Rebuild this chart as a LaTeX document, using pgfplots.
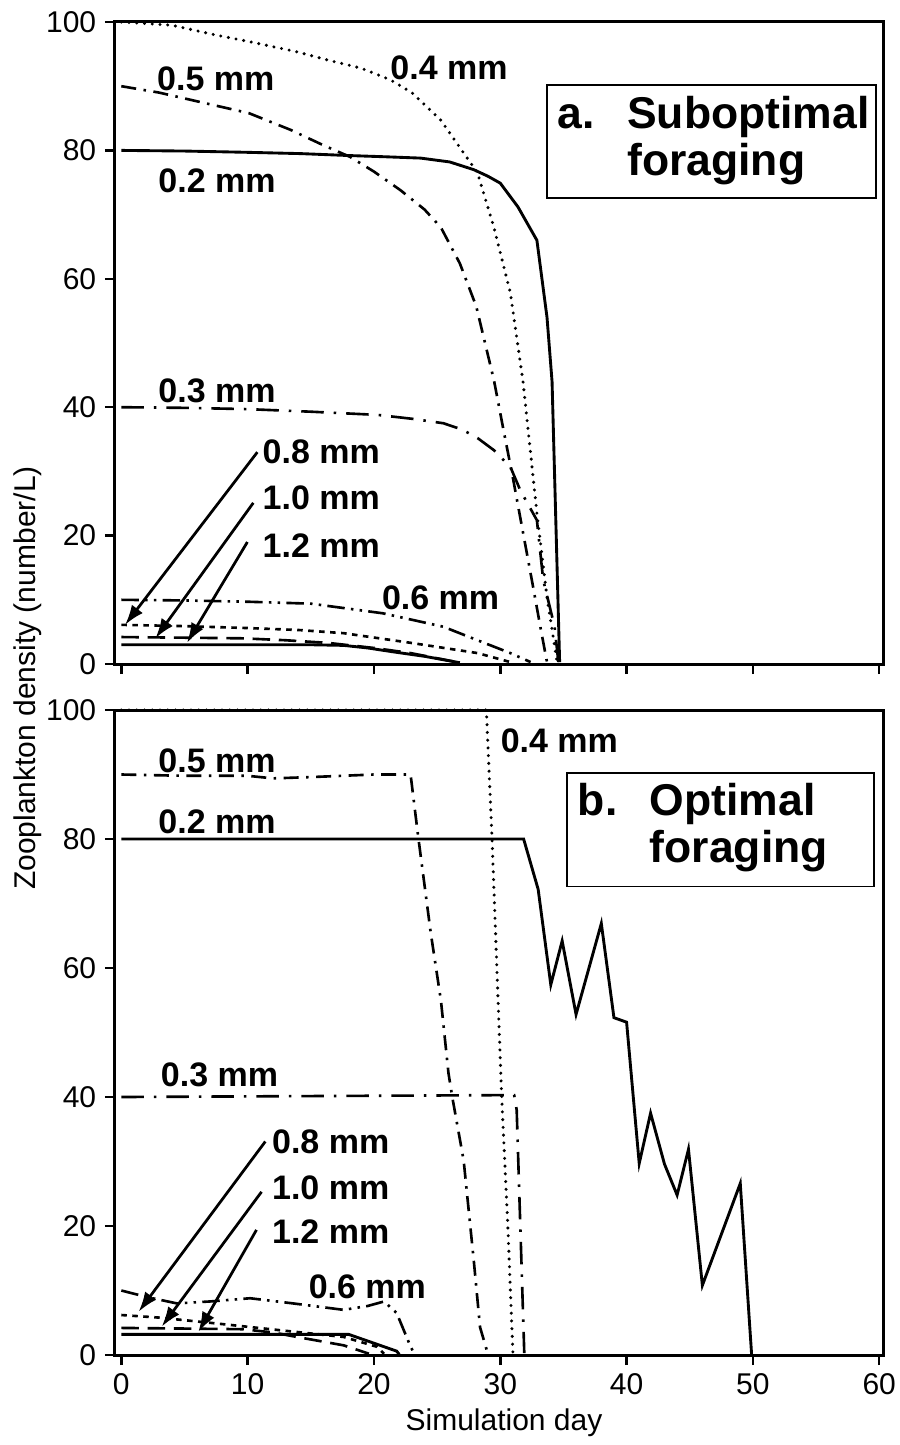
\documentclass[border=0pt]{standalone}
\usepackage{pgfplots}
\pgfplotsset{compat=1.18}
\usetikzlibrary{arrows.meta}
\usepackage{fontspec}
\setmainfont{Liberation Sans}
\tikzset{
 lab/.style={font=\bfseries\fontsize{13.6}{15}\selectfont, anchor=west, inner sep=0pt},
 arr/.style={black, line width=1.1pt, -{Latex[length=8pt,width=5.5pt]}},
}
\pgfplotsset{
 dotline/.style={black, line width=1.35pt, line cap=round, dash pattern=on 0pt off 3.1pt},
 dashdot/.style={black, line width=1.05pt, dash pattern=on 6pt off 3pt on 1pt off 3pt},
 longdashdot/.style={black, line width=1.05pt, dash pattern=on 9pt off 4pt on 1pt off 4pt},
 dashdotdot/.style={black, line width=1.05pt, dash pattern=on 7pt off 2.5pt on 1pt off 2.5pt on 1pt off 2.5pt},
 shortdash/.style={black, line width=1.05pt, dash pattern=on 2.2pt off 2.2pt},
 longdash/.style={black, line width=1.05pt, dash pattern=on 7pt off 3.5pt},
 solidline/.style={black, line width=1.15pt},
 panel/.style={
   anchor=north west, scale only axis, width=307.2pt,
   xmin=-0.5, xmax=60.3, ymin=0, ymax=100,
   xtick={0,10,...,60}, ytick={0,20,...,100},
   tick align=outside, tick pos=left, major tick length=4pt,
   axis line style={line width=1.2pt}, every tick/.style={black, line width=1pt},
   tick label style={font=\fontsize{12}{14}\selectfont},
   /pgf/number format/assume math mode=true,
   clip=false, no markers,
 },
}
\begin{document}
\begin{tikzpicture}
\path[use as bounding box] (0pt,0pt) rectangle (359.6pt,-578pt);

% ---------------- Panel a ----------------
\begin{axis}[panel, at={(46pt,-8.8pt)}, height=256.8pt, xticklabels={}]
% 0.4 mm
\addplot[dotline] coordinates {(0,100) (4,99.5) (7.4,98) (10,97) (13.8,95.4) (16.5,94) (19,92.8) (21.3,91) (23,89) (25.3,84.7) (27.1,79.6) (28.2,76.5) (29.5,68) (30.8,57.8) (31.8,44) (32.9,23.5) (33.7,10.4) (34.5,0.3)};
% 0.5 mm
\addplot[dashdot] coordinates {(0,90) (3,89) (6.1,87.6) (10.1,85.8) (13.4,83.2) (16,80.8) (18.1,79) (20,76.7) (22.1,73.8) (24,70.8) (25.3,68) (26.8,62.4) (28.1,55.7) (29.5,44.2) (30.3,36) (31,29) (31.8,20.5) (32.6,12) (33.2,5.5) (33.7,0.3)};
% 0.2 mm
\addplot[solidline] coordinates {(0,80) (5,79.9) (10,79.7) (14.2,79.5) (18,79.2) (21,79) (23.7,78.8) (26,78.2) (27.9,77) (29,76) (30,74.9) (31.4,71.2) (32.9,66) (33.3,60) (33.7,54) (34.1,44) (34.7,0.3)};
% 0.3 mm
\addplot[longdashdot] coordinates {(0,40) (5,39.9) (10,39.7) (15,39.3) (20.3,38.8) (23,38.2) (25.5,37.5) (27,36.5) (28.2,35.2) (29.5,33.3) (30.8,30.7) (31.6,27) (32.9,22.4) (33.4,13.1) (34.3,5.8) (34.6,0.3)};
% 0.6 mm
\addplot[dashdotdot] coordinates {(0,10) (5,9.9) (10,9.7) (15,9.4) (20.7,7.9) (25.5,5.8) (28.2,3.7) (30.8,1.7) (32.4,0.3)};
% 0.8 mm
\addplot[shortdash] coordinates {(0,6.1) (5,5.9) (10,5.6) (14,5.3) (17.6,4.8) (22.9,3.3) (28.2,1.7) (30.8,0.3)};
% 1.0 mm
\addplot[longdash] coordinates {(0,4.2) (5,4.1) (9.6,4) (13,3.7) (16.3,3.3) (20,2.5) (22.9,1.7) (26.8,0.2)};
% 1.2 mm
\addplot[solidline] coordinates {(0,3) (10,3) (15,3) (17.6,2.9) (19.5,2.5) (21.5,1.9) (24,1.2) (26.8,0.2)};

\node[lab] at (axis cs:21.27,92.8) {0.4 mm};
\node[lab] at (axis cs:2.8,91.2) {0.5 mm};
\node[lab] at (axis cs:2.9,75.3) {0.2 mm};
\node[lab] at (axis cs:2.9,42.5) {0.3 mm};
\node[lab] at (axis cs:11.15,33.0) {0.8 mm};
\node[lab] at (axis cs:11.15,25.9) {1.0 mm};
\node[lab] at (axis cs:11.15,18.5) {1.2 mm};
\node[lab] at (axis cs:20.6,10.3) {0.6 mm};
\draw[arr] (axis cs:10.77,33.0) -- (axis cs:0.3,6.1);
\draw[arr] (axis cs:10.45,25.1) -- (axis cs:2.7,4.0);
\draw[arr] (axis cs:9.98,19.0) -- (axis cs:5.2,3.3);

\draw[black, line width=0.6pt, fill=white] (axis cs:33.7,90.2) rectangle (axis cs:59.75,72.6);
\node[anchor=base west, inner sep=0pt, font=\bfseries\fontsize{17.8}{18.8}\selectfont] at (axis cs:34.5,83.4)
  {\begin{tabular}[t]{@{}l@{\hspace{13pt}}l@{}}a.&Suboptimal\\&foraging\end{tabular}};
\end{axis}

% ---------------- Panel b ----------------
\begin{axis}[panel, at={(46pt,-284pt)}, height=258pt]
% 0.4 mm
\addplot[dotline] coordinates {(0,100) (28.9,100) (29.35,80) (30.1,40.6) (30.6,20) (31,0.3)};
% 0.5 mm
\addplot[dashdot] coordinates {(0,90) (5,89.8) (10,89.8) (12,89.4) (15,89.6) (20,90) (22.9,90) (23.5,80.4) (24.5,65.4) (25.3,55) (25.9,43.7) (26.2,40) (27.1,30.2) (27.9,14.7) (28.4,4.3) (29,0.3)};
% 0.2 mm
\addplot[solidline] coordinates {(0,80) (31.85,80) (33,72.2) (34,57.4) (34.9,64.2) (36,52.8) (38,66.9) (39,52.3) (40,51.6) (41,29.7) (41.9,37.5) (43,29.6) (44,24.8) (44.9,31.9) (46,10.8) (49,26.6) (49.9,0)};
% 0.3 mm
\addplot[longdashdot] coordinates {(0,40) (31.1,40.3) (31.3,38) (31.9,0.3)};
% 0.6 mm
\addplot[dashdotdot] coordinates {(0,10) (2,9) (4.4,8) (7,8.3) (10.2,8.8) (13.6,8) (17.6,7) (19.5,7.6) (20.8,8.3) (21.8,6.5) (22.9,1.3) (23.2,0.2)};
% 0.8 mm
\addplot[shortdash] coordinates {(0,6.2) (3,5.8) (7,5) (12.3,3.9) (17.6,2.8) (20.2,1.3) (20.8,0.2)};
% 1.0 mm
\addplot[longdash] coordinates {(0,4.2) (5,4.1) (9.6,4) (12,3.5) (13.9,2.8) (17.6,1.5) (19.6,0.2)};
% 1.2 mm
\addplot[solidline] coordinates {(0,3.2) (18,3.2) (21.8,0.6) (22,0.1)};

\node[lab] at (axis cs:30.0,95.3) {0.4 mm};
\node[lab] at (axis cs:2.9,92.2) {0.5 mm};
\node[lab] at (axis cs:2.9,82.6) {0.2 mm};
\node[lab] at (axis cs:3.1,43.4) {0.3 mm};
\node[lab] at (axis cs:11.9,33.1) {0.8 mm};
\node[lab] at (axis cs:11.9,25.9) {1.0 mm};
\node[lab] at (axis cs:11.9,19.1) {1.2 mm};
\node[lab] at (axis cs:14.8,10.6) {0.6 mm};
\draw[arr] (axis cs:11.4,33.1) -- (axis cs:1.37,6.7);
\draw[arr] (axis cs:11.1,25.3) -- (axis cs:3.2,4.4);
\draw[arr] (axis cs:10.7,19.4) -- (axis cs:6.1,3.6);

\draw[black, line width=0.6pt, fill=white] (axis cs:35.29,90.2) rectangle (axis cs:59.6,72.6);
\node[anchor=base west, inner sep=0pt, font=\bfseries\fontsize{17.8}{18.8}\selectfont] at (axis cs:36.1,83.6)
  {\begin{tabular}[t]{@{}l@{\hspace{13pt}}l@{}}b.&Optimal\\&foraging\end{tabular}};
\end{axis}

\node[rotate=90, font=\fontsize{12}{14}\selectfont] at (11pt,-271.2pt) {Zooplankton density (number/L)};
\node[font=\fontsize{12}{14}\selectfont] at (201.6pt,-569pt) {Simulation day};
\end{tikzpicture}
\end{document}
